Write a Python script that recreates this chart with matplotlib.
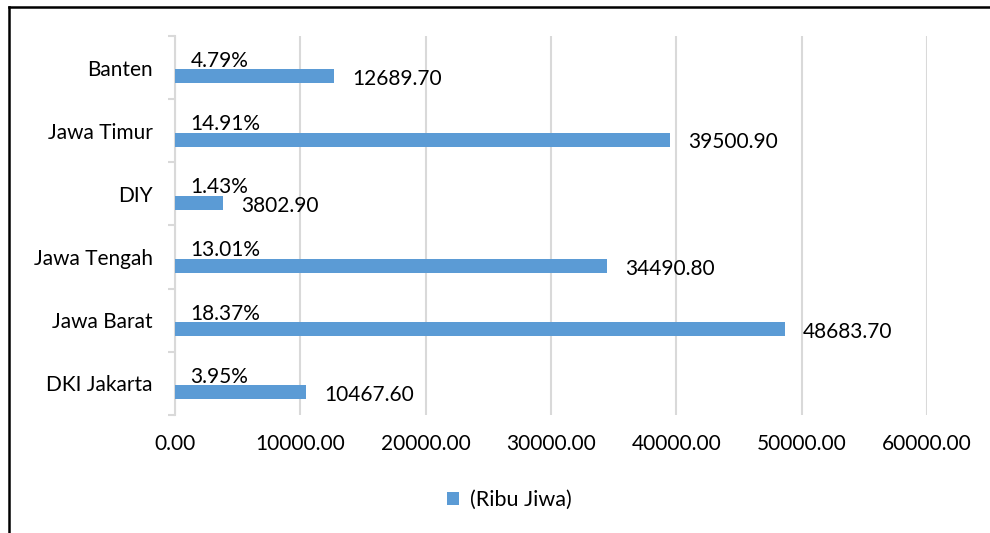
import matplotlib.pyplot as plt
from matplotlib.lines import Line2D

provinsi = ["DKI Jakarta", "Jawa Barat", "Jawa Tengah", "DIY", "Jawa Timur", "Banten"]
penduduk = [10467.60, 48683.70, 34490.80, 3802.90, 39500.90, 12689.70]
persen = ["3.95%", "18.37%", "13.01%", "1.43%", "14.91%", "4.79%"]
xticks = [0, 10000, 20000, 30000, 40000, 50000, 60000]

plt.rcParams['font.family'] = ['Lato', 'DejaVu Sans']
fs = 15
fig = plt.figure(figsize=(9.9, 5.33), dpi=100)
ax = fig.add_axes([0.1768, 0.2214, 0.7596, 0.7111])

pos = [i - 0.14 for i in range(len(provinsi))]
ax.barh(pos, penduduk, height=0.22, color="#5B9BD5", zorder=3)

for p, v, pc in zip(pos, penduduk, persen):
    ax.annotate(pc, (0, p + 0.11), xytext=(11, -1), textcoords="offset points",
                ha="left", va="bottom", fontsize=fs)
    ax.annotate("%.2f" % v, (v, p), xytext=(13, -2), textcoords="offset points",
                ha="left", va="center", fontsize=fs)

ax.set_xlim(0, 60000)
ax.set_ylim(-0.5, len(provinsi) - 0.5)
ax.set_xticks(xticks)
ax.set_xticklabels(["%.2f" % t for t in xticks], fontsize=fs)
ax.set_yticks(range(len(provinsi)))
ax.set_yticklabels(provinsi, fontsize=fs)
ax.set_yticks([i - 0.5 for i in range(len(provinsi) + 1)], minor=True)
ax.tick_params(axis="y", which="major", length=0, pad=16)
ax.tick_params(axis="y", which="minor", length=5, color="#D9D9D9", width=1.5)
ax.tick_params(axis="x", length=0, pad=14)
ax.grid(axis="x", color="#D9D9D9", linewidth=1.5, zorder=0)
for s in ["top", "right", "bottom"]:
    ax.spines[s].set_visible(False)
ax.spines["left"].set_color("#D9D9D9")
ax.spines["left"].set_linewidth(1.5)

ax.legend(["(Ribu Jiwa)"], loc="center", bbox_to_anchor=(0.445, -0.225),
          frameon=False, fontsize=15.5, handlelength=0.55, handleheight=0.55,
          handletextpad=0.5)

fig.add_artist(Line2D([9 / 990, 1], [1 - 7 / 533, 1 - 7 / 533], color="black", linewidth=1.8))
fig.add_artist(Line2D([9 / 990, 9 / 990], [1 - 7 / 533, 0], color="black", linewidth=1.8))

fig.savefig("out.png", dpi=100)
